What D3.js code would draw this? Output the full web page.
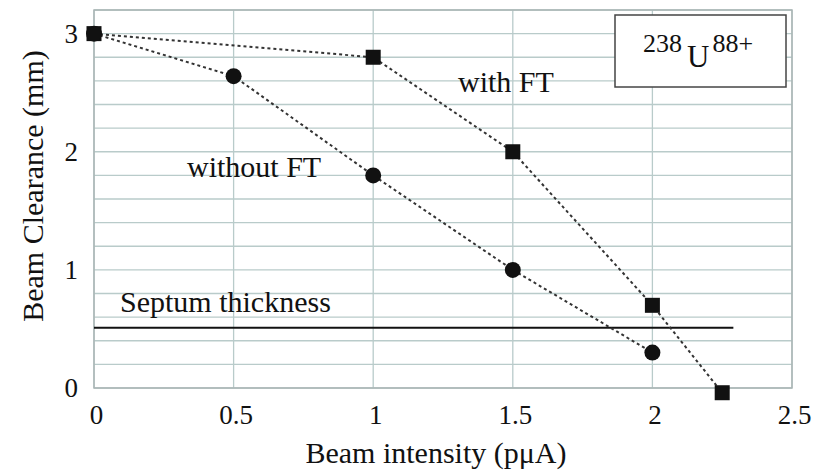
<!DOCTYPE html>
<html>
<head>
<meta charset="utf-8">
<script src="https://cdn.jsdelivr.net/npm/d3@7"></script>
<style>
	body { margin: 0; background: #fff; }
	svg text { font-family: "Liberation Serif", "Times New Roman", serif; fill: #111; }
</style>
</head>
<body>
<svg id="chart" width="826" height="474"></svg>
<script>
// beam intensity (pμA) vs beam clearance (mm)
var withFtX = [0, 1, 1.5, 2, 2.25];
var withFtY = [3, 2.8, 2.0, 0.7, -0.04];
var withoutFtX = [0, 0.5, 1, 1.5, 2];
var withoutFtY = [3, 2.64, 1.8, 1.0, 0.3];
var xTicks = [0, 0.5, 1, 1.5, 2, 2.5];
var yTicks = [0, 1, 2, 3];
var septum = 0.51;
var septumEnd = 2.29;

var svg = d3.select('#chart');
var x = d3.scaleLinear().domain([0, 2.5]).range([94, 792]);
var y = d3.scaleLinear().domain([0, 3.2]).range([388, 10]);

// grid
var minor = d3.range(0, 3.21, 0.2);
svg.append('g').selectAll('line').data(minor).enter().append('line')
	.attr('x1', x(0)).attr('x2', x(2.5))
	.attr('y1', function(d) { return y(d); }).attr('y2', function(d) { return y(d); })
	.attr('stroke', '#b9cbca').attr('stroke-width', 1.3);
svg.append('g').selectAll('line').data(xTicks).enter().append('line')
	.attr('y1', y(0)).attr('y2', y(3.2))
	.attr('x1', function(d) { return x(d); }).attr('x2', function(d) { return x(d); })
	.attr('stroke', '#b9cbca').attr('stroke-width', 1.3);
svg.append('rect')
	.attr('x', x(0)).attr('y', y(3.2))
	.attr('width', x(2.5) - x(0)).attr('height', y(0) - y(3.2))
	.attr('fill', 'none').attr('stroke', '#aab5b5').attr('stroke-width', 1.5);

// axes (labels only)
var xAxis = svg.append('g').attr('transform', 'translate(0,' + y(0) + ')')
	.call(d3.axisBottom(x).tickValues(xTicks).tickSize(0).tickPadding(36).tickFormat(d3.format('')));
var yAxis = svg.append('g').attr('transform', 'translate(' + x(0) + ',0)')
	.call(d3.axisLeft(y).tickValues(yTicks).tickSize(0).tickPadding(16).tickFormat(d3.format('d')));
[xAxis, yAxis].forEach(function(a) {
	a.select('.domain').remove();
	a.selectAll('text').attr('font-size', 27).attr('fill', '#111');
});
yAxis.selectAll('text').attr('dy', '0.33em');
xAxis.selectAll('text').attr('dy', 0).attr('dx', 2);

// septum line
svg.append('line')
	.attr('x1', x(0)).attr('x2', x(septumEnd))
	.attr('y1', y(septum)).attr('y2', y(septum))
	.attr('stroke', '#111').attr('stroke-width', 2);
svg.append('text').attr('x', 120).attr('y', 312).attr('font-size', 30).text('Septum thickness');

// series
var line = d3.line().x(function(d) { return x(d[0]); }).y(function(d) { return y(d[1]); });
var sq = d3.zip(withFtX, withFtY);
var ci = d3.zip(withoutFtX, withoutFtY);
[sq, ci].forEach(function(pts) {
	svg.append('path').attr('d', line(pts))
		.attr('fill', 'none').attr('stroke', '#333').attr('stroke-width', 2)
		.attr('stroke-dasharray', '3,3');
});
svg.append('g').selectAll('rect').data(sq).enter().append('rect')
	.attr('x', function(d) { return x(d[0]) - 7.5; })
	.attr('y', function(d) { return y(d[1]) - 7.5; })
	.attr('width', 15).attr('height', 15).attr('fill', '#111');
svg.append('g').selectAll('circle').data(ci).enter().append('circle')
	.attr('cx', function(d) { return x(d[0]); })
	.attr('cy', function(d) { return y(d[1]); })
	.attr('r', 8).attr('fill', '#111');

// series labels
svg.append('text').attr('x', 458).attr('y', 92).attr('font-size', 30).text('with FT');
svg.append('text').attr('x', 187).attr('y', 177).attr('font-size', 30).text('without FT');

// ion box
svg.append('rect').attr('x', 615).attr('y', 15).attr('width', 171).attr('height', 72)
	.attr('fill', '#fff').attr('stroke', '#444').attr('stroke-width', 1.5);
var ion = svg.append('text').attr('x', 643).attr('y', 52).attr('font-size', 26);
ion.append('tspan').text('238');
ion.append('tspan').attr('dy', 15).attr('dx', 5).attr('font-size', 31).text('U');
ion.append('tspan').attr('dy', -15).attr('dx', 3).text('88+');

// titles
svg.append('text').attr('x', 436).attr('y', 463).attr('text-anchor', 'middle')
	.attr('font-size', 30).text('Beam intensity (pμA)');
svg.append('text').attr('transform', 'translate(43,186) rotate(-90)').attr('text-anchor', 'middle')
	.attr('font-size', 30).text('Beam Clearance (mm)');
</script>
</body>
</html>
